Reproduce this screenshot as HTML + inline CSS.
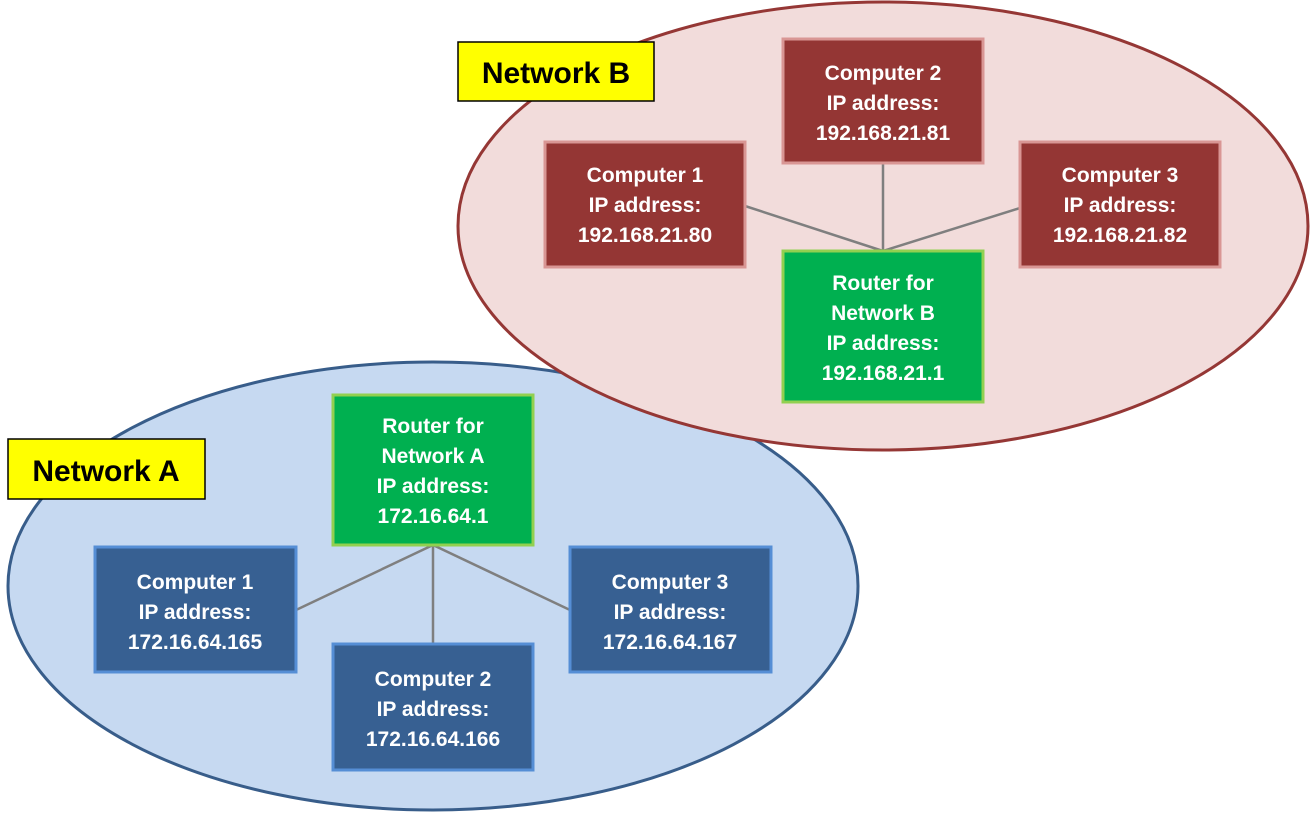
<!DOCTYPE html>
<html><head><meta charset="utf-8"><style>
html,body{margin:0;padding:0;background:#fff;}
svg text{font-family:"Liberation Sans",sans-serif;font-weight:bold;}
</style></head><body>
<svg width="1310" height="813" viewBox="0 0 1310 813" xmlns="http://www.w3.org/2000/svg">
<ellipse cx="433" cy="586" rx="425" ry="224" fill="#c6d9f1" stroke="#385d8a" stroke-width="3"/>
<ellipse cx="883" cy="226" rx="425" ry="224" fill="#f2dcdb" stroke="#953735" stroke-width="3"/>
<g stroke="#7f7f7f" stroke-width="2.5">
<line x1="883" y1="251" x2="745" y2="206"/><line x1="883" y1="251" x2="883" y2="163"/><line x1="883" y1="251" x2="1020" y2="208"/>
<line x1="433" y1="545" x2="296" y2="610"/><line x1="433" y1="545" x2="433" y2="644"/><line x1="433" y1="545" x2="570" y2="610"/>
</g>
<g stroke-width="3">
<rect x="783" y="39" width="200" height="124" fill="#943634" stroke="#d99694"/>
<rect x="545" y="142" width="200" height="125" fill="#943634" stroke="#d99694"/>
<rect x="1020" y="142" width="200" height="125" fill="#943634" stroke="#d99694"/>
<rect x="783" y="251" width="200" height="151" fill="#00b050" stroke="#92d050"/>
<rect x="333" y="395" width="200" height="150" fill="#00b050" stroke="#92d050"/>
<rect x="95" y="547" width="201" height="125" fill="#376092" stroke="#558ed5"/>
<rect x="570" y="547" width="201" height="125" fill="#376092" stroke="#558ed5"/>
<rect x="333" y="644" width="200" height="126" fill="#376092" stroke="#558ed5"/>
</g>
<rect x="458" y="42" width="196" height="59" fill="#ffff00" stroke="#000" stroke-width="1.5"/>
<rect x="8" y="439" width="197" height="60" fill="#ffff00" stroke="#000" stroke-width="1.5"/>
<g font-size="30" fill="#000" text-anchor="middle">
<text x="556" y="83">Network B</text><text x="106" y="481">Network A</text>
</g>
<g font-size="21" fill="#fff" text-anchor="middle">
<text x="883" y="80">Computer 2</text><text x="883" y="110">IP address:</text><text x="883" y="140">192.168.21.81</text>
<text x="645" y="182">Computer 1</text><text x="645" y="212">IP address:</text><text x="645" y="242">192.168.21.80</text>
<text x="1120" y="182">Computer 3</text><text x="1120" y="212">IP address:</text><text x="1120" y="242">192.168.21.82</text>
<text x="883" y="290">Router for</text><text x="883" y="320">Network B</text><text x="883" y="350">IP address:</text><text x="883" y="380">192.168.21.1</text>
<text x="433" y="433">Router for</text><text x="433" y="463">Network A</text><text x="433" y="493">IP address:</text><text x="433" y="523">172.16.64.1</text>
<text x="195" y="589">Computer 1</text><text x="195" y="619">IP address:</text><text x="195" y="649">172.16.64.165</text>
<text x="670" y="589">Computer 3</text><text x="670" y="619">IP address:</text><text x="670" y="649">172.16.64.167</text>
<text x="433" y="686">Computer 2</text><text x="433" y="716">IP address:</text><text x="433" y="746">172.16.64.166</text>
</g>
</svg>
</body></html>
